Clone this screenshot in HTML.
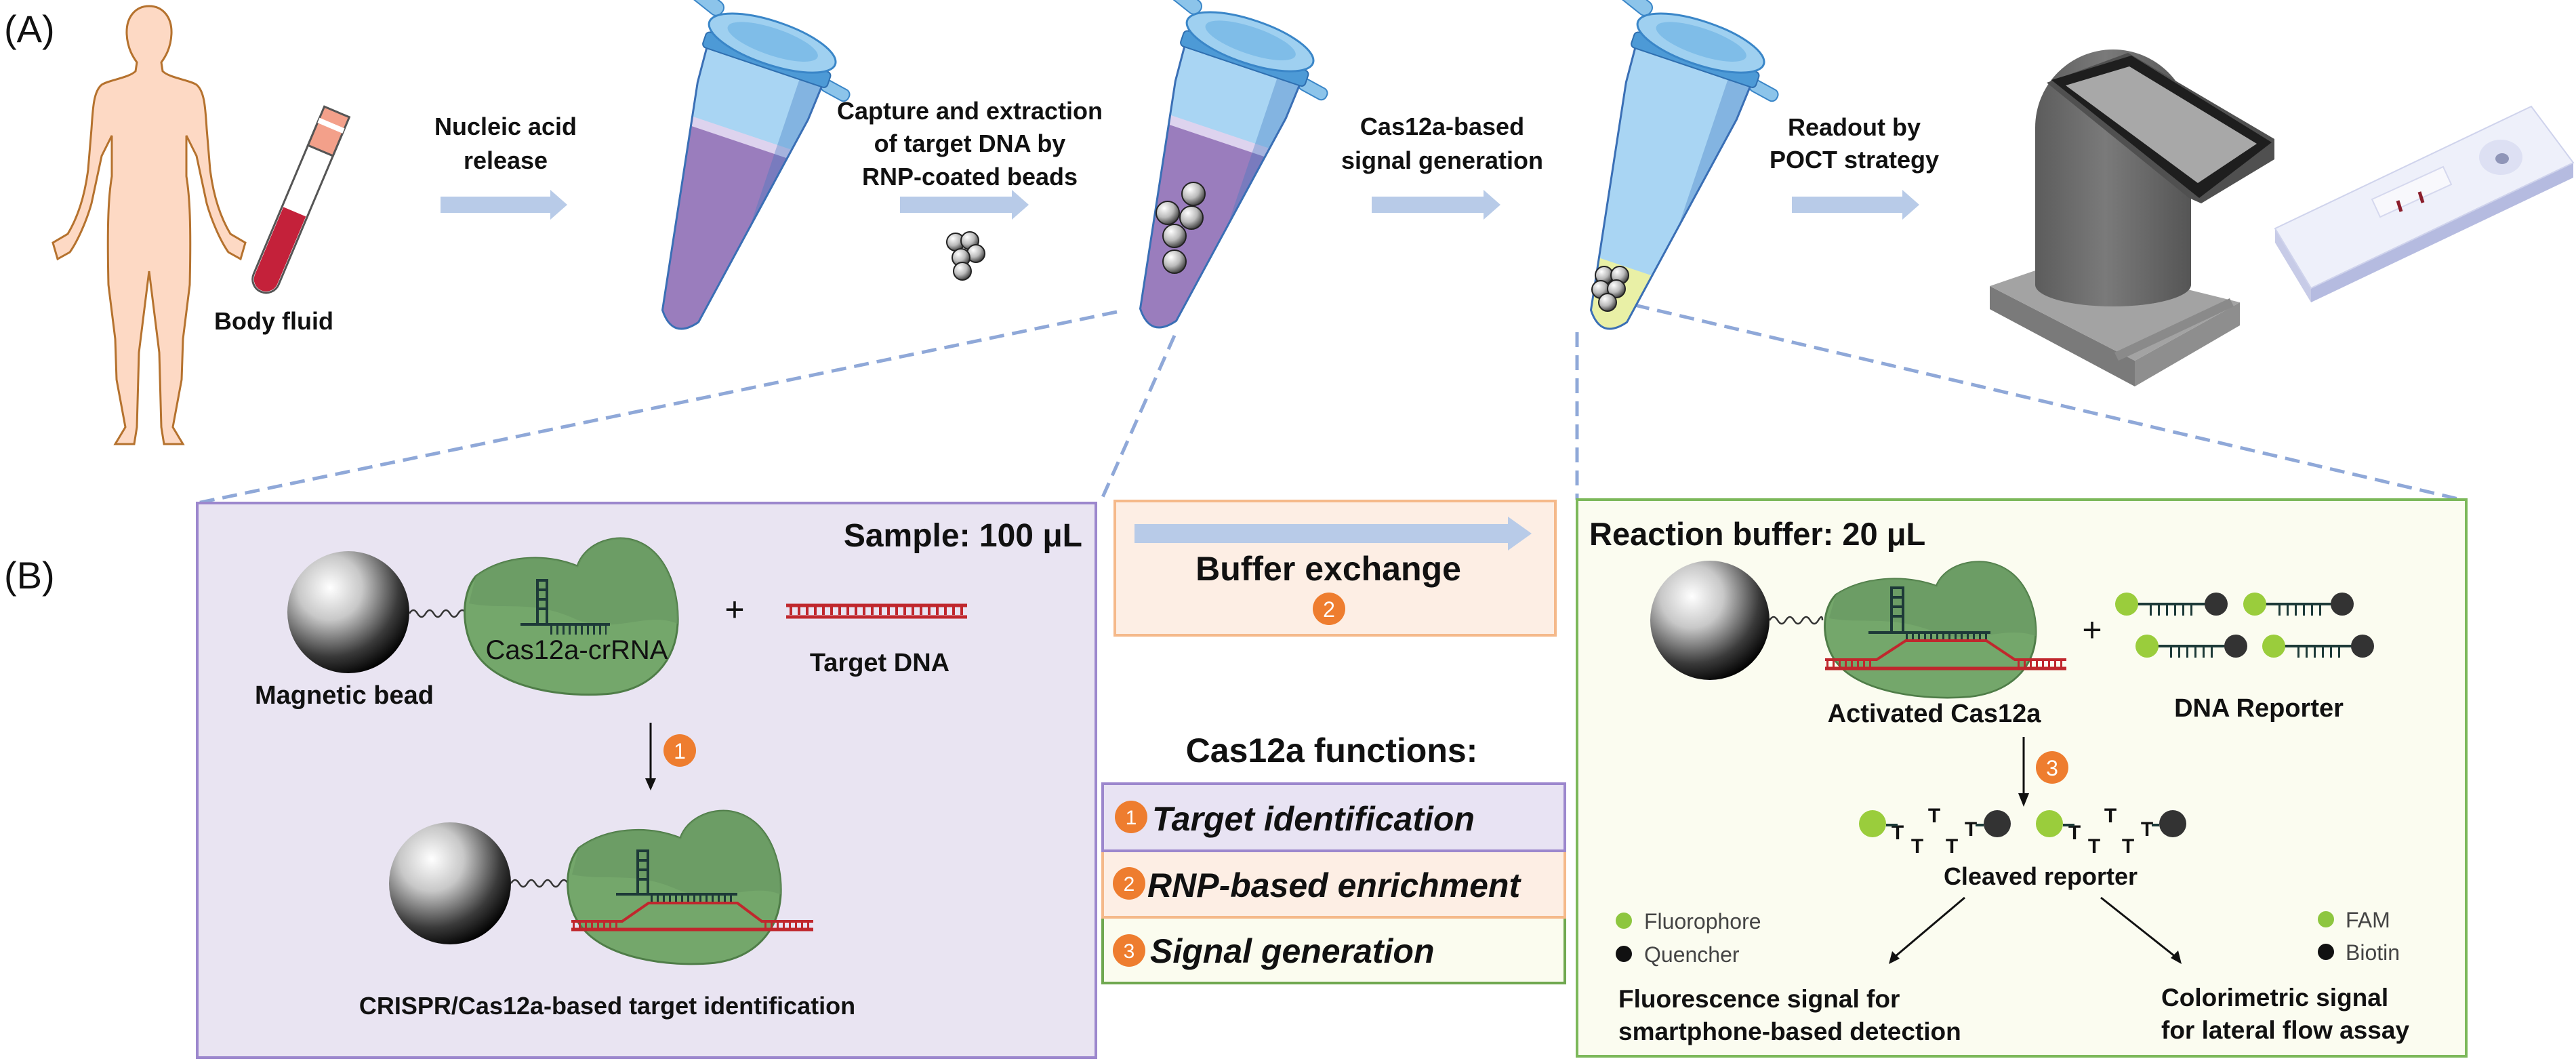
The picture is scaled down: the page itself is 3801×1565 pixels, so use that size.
<!DOCTYPE html>
<html><head><meta charset="utf-8"><style>
html,body{margin:0;padding:0;background:#fff;}
svg{display:block;}
text{font-family:"Liberation Sans",Arial,sans-serif;fill:#111;}
.b{font-weight:bold;}
</style></head><body>
<svg width="3801" height="1565" viewBox="0 0 3801 1565" xmlns="http://www.w3.org/2000/svg">
<defs>
<radialGradient id="bead" cx="0.35" cy="0.3" r="0.75">
<stop offset="0" stop-color="#ffffff"/><stop offset="0.35" stop-color="#c8c8c8"/><stop offset="0.75" stop-color="#3a3a3a"/><stop offset="1" stop-color="#000"/>
</radialGradient>
<radialGradient id="sbead" cx="0.35" cy="0.3" r="0.8">
<stop offset="0" stop-color="#fff"/><stop offset="0.5" stop-color="#bbb"/><stop offset="1" stop-color="#222"/>
</radialGradient>
<linearGradient id="cyl" x1="0" x2="1" y1="0" y2="0">
<stop offset="0" stop-color="#5c5c5c"/><stop offset="0.45" stop-color="#7a7a7a"/><stop offset="1" stop-color="#555"/>
</linearGradient>
<clipPath id="tb"><path d="M-90,0 L-86,60 L-28,395 Q0,432 28,395 L86,60 L90,0 Z"/></clipPath>
<path id="prot" d="M20,60 C60,30 120,25 170,45 C180,15 215,0 245,5 C300,15 320,80 318,130 C315,185 280,225 220,233 C150,240 60,225 25,180 C0,150 -5,90 20,60 Z"/>
</defs>

<g stroke="#8fa8d8" stroke-width="5" stroke-dasharray="22 12" fill="none">
<line x1="1648" y1="460" x2="291" y2="742"/>
<line x1="1733" y1="495" x2="1624" y2="740"/>
<line x1="2327" y1="490" x2="2327" y2="737"/>
<line x1="2412" y1="450" x2="3636" y2="738"/>
</g>

<text x="6" y="62" font-size="56">(A)</text>
<text x="6" y="868" font-size="56">(B)</text>

<path d="M220,9 C240,9 254,25 253,50 C252,72 243,85 238,92 L240,105 C250,115 280,118 290,125 C302,135 303,160 305,190 L310,250 C315,290 325,320 340,345 L362,358 L355,382 L337,372 C325,355 312,325 305,300 L290,230 L275,200 L275,260 C280,290 282,330 280,420 L270,500 L268,560 L255,630 L270,655 L242,655 L238,630 L235,520 L220,400 L205,520 L202,630 L198,655 L170,655 L185,630 L172,560 L170,500 L160,420 C158,330 160,290 165,260 L165,200 L150,230 L135,300 C128,325 115,355 103,372 L85,382 L78,358 L100,345 C115,320 125,290 130,250 L135,190 C137,160 138,135 150,125 C160,118 190,115 200,105 L202,92 C197,85 188,72 187,50 C186,25 200,9 220,9 Z" fill="#fdd9c4" stroke="#b5722e" stroke-width="3"/>

<g transform="translate(497,165) rotate(22.9)">
<rect x="-20" y="0" width="40" height="288" rx="20" fill="#fff" stroke="#555" stroke-width="3"/>
<path d="M-18,160 L18,160 L18,268 A18,18 0 0 1 -18,268 Z" fill="#c4213a"/>
<rect x="-20" y="0" width="40" height="62" fill="#f3a08a" stroke="#555" stroke-width="3"/>
<rect x="-20" y="18" width="40" height="8" fill="#fff"/>
</g>
<text class="b" x="404" y="486" font-size="36" text-anchor="middle">Body fluid</text>

<g class="b" font-size="36" text-anchor="middle">
<text x="746" y="199" class="b">Nucleic acid</text>
<text x="746" y="249" class="b">release</text>
<text x="1431" y="176" class="b">Capture and extraction</text>
<text x="1431" y="224" class="b">of target DNA by</text>
<text x="1431" y="273" class="b">RNP-coated beads</text>
<text x="2128" y="199" class="b">Cas12a-based</text>
<text x="2128" y="249" class="b">signal generation</text>
<text x="2736" y="200" class="b">Readout by</text>
<text x="2736" y="248" class="b">POCT strategy</text>
</g>

<g fill="#b8cbe8">
<path d="M650,290 L812,290 L812,280 L837,302 L812,324 L812,314 L650,314 Z"/>
<path d="M1328,290 L1493,290 L1493,280 L1518,302 L1493,324 L1493,314 L1328,314 Z"/>
<path d="M2024,290 L2189,290 L2189,280 L2214,302 L2189,324 L2189,314 L2024,314 Z"/>
<path d="M2644,290 L2807,290 L2807,280 L2832,302 L2807,324 L2807,314 L2644,314 Z"/>
</g>

<g transform="translate(1130,92) rotate(18.6)">
<rect x="-175" y="-62" width="90" height="22" rx="10" fill="#8cc4ea" stroke="#3a86c8" stroke-width="2" transform="rotate(20 -90 -50)"/>
<rect x="88" y="-6" width="45" height="18" rx="8" fill="#8cc4ea" stroke="#3a86c8" stroke-width="2" transform="rotate(10 90 3)"/>
<path d="M-90,0 L-86,60 L-28,395 Q0,432 28,395 L86,60 L90,0 Z" fill="#a9d5f3"/>
<g clip-path="url(#tb)"><rect x="-100" y="118" width="200" height="320" fill="#9a7dbd"/><rect x="-100" y="110" width="200" height="14" fill="#ddd3ee"/><rect x="55" y="0" width="40" height="440" fill="#3d78c0" opacity="0.35"/></g>
<path d="M-90,0 L-86,60 L-28,395 Q0,432 28,395 L86,60 L90,0 Z" fill="none" stroke="#3a6fb5" stroke-width="3"/>
<rect x="-97" y="-16" width="194" height="24" rx="6" fill="#4d9ad6" stroke="#2f6fb0" stroke-width="2"/>
<ellipse cx="0" cy="-30" rx="98" ry="32" fill="#9fd0f0" stroke="#3a86c8" stroke-width="3"/>
<ellipse cx="0" cy="-32" rx="70" ry="20" fill="#7fbde8"/>
</g>
<g transform="translate(1835,90) rotate(18.6)">
<rect x="-175" y="-62" width="90" height="22" rx="10" fill="#8cc4ea" stroke="#3a86c8" stroke-width="2" transform="rotate(20 -90 -50)"/>
<rect x="88" y="-6" width="45" height="18" rx="8" fill="#8cc4ea" stroke="#3a86c8" stroke-width="2" transform="rotate(10 90 3)"/>
<path d="M-90,0 L-86,60 L-28,395 Q0,432 28,395 L86,60 L90,0 Z" fill="#a9d5f3"/>
<g clip-path="url(#tb)"><rect x="-100" y="118" width="200" height="320" fill="#9a7dbd"/><rect x="-100" y="110" width="200" height="14" fill="#ddd3ee"/><rect x="55" y="0" width="40" height="440" fill="#3d78c0" opacity="0.35"/></g>
<path d="M-90,0 L-86,60 L-28,395 Q0,432 28,395 L86,60 L90,0 Z" fill="none" stroke="#3a6fb5" stroke-width="3"/>
<rect x="-97" y="-16" width="194" height="24" rx="6" fill="#4d9ad6" stroke="#2f6fb0" stroke-width="2"/>
<ellipse cx="0" cy="-30" rx="98" ry="32" fill="#9fd0f0" stroke="#3a86c8" stroke-width="3"/>
<ellipse cx="0" cy="-32" rx="70" ry="20" fill="#7fbde8"/>
</g>
<g transform="translate(2500,92) rotate(18.6)">
<rect x="-175" y="-62" width="90" height="22" rx="10" fill="#8cc4ea" stroke="#3a86c8" stroke-width="2" transform="rotate(20 -90 -50)"/>
<rect x="88" y="-6" width="45" height="18" rx="8" fill="#8cc4ea" stroke="#3a86c8" stroke-width="2" transform="rotate(10 90 3)"/>
<path d="M-90,0 L-86,60 L-28,395 Q0,432 28,395 L86,60 L90,0 Z" fill="#a9d5f3"/>
<g clip-path="url(#tb)"><rect x="-100" y="318" width="200" height="120" fill="#e9f0a6"/><rect x="55" y="0" width="40" height="440" fill="#3d78c0" opacity="0.35"/></g>
<path d="M-90,0 L-86,60 L-28,395 Q0,432 28,395 L86,60 L90,0 Z" fill="none" stroke="#3a6fb5" stroke-width="3"/>
<rect x="-97" y="-16" width="194" height="24" rx="6" fill="#4d9ad6" stroke="#2f6fb0" stroke-width="2"/>
<ellipse cx="0" cy="-30" rx="98" ry="32" fill="#9fd0f0" stroke="#3a86c8" stroke-width="3"/>
<ellipse cx="0" cy="-32" rx="70" ry="20" fill="#7fbde8"/>
</g>

<g fill="url(#sbead)" stroke="#222" stroke-width="2">
<circle cx="1761" cy="286" r="17"/><circle cx="1723" cy="314" r="17"/><circle cx="1758" cy="321" r="17"/><circle cx="1733" cy="348" r="17"/><circle cx="1733" cy="386" r="17"/>
<circle cx="1410" cy="357" r="13"/><circle cx="1431" cy="355" r="13"/><circle cx="1440" cy="374" r="13"/><circle cx="1418" cy="380" r="13"/><circle cx="1420" cy="400" r="13"/>
<circle cx="2367" cy="406" r="13"/><circle cx="2390" cy="406" r="13"/><circle cx="2362" cy="427" r="13"/><circle cx="2385" cy="426" r="13"/><circle cx="2372" cy="446" r="13"/>
</g>

<polygon points="2936,422 2936,456 3150,570 3150,532" fill="#7a7a7a"/>
<polygon points="3150,532 3150,570 3305,480 3305,446" fill="#8e8e8e"/>
<polygon points="2936,422 3050,383 3305,446 3150,532" fill="#a3a3a3"/>
<polygon points="3120,520 3290,440 3296,452 3126,532" fill="#8a8a8a"/>
<path d="M3003,188 A115,115 0 0 1 3233,188 L3233,420 A115,32 0 0 1 3003,420 Z" fill="url(#cyl)"/>
<polygon points="3020,122 3140,78 3356,205 3356,235 3248,300 3230,292" fill="#505050"/>
<polygon points="3027,118 3145,82 3352,210 3245,292" fill="#1e1e1e"/>
<polygon points="3048,126 3142,98 3330,212 3243,270" fill="#a8a8a8"/>

<polygon points="3357,337 3410,425 3410,446 3357,358" fill="#c7cbe7"/>
<polygon points="3410,425 3797,240 3797,262 3410,446" fill="#b5bbe0"/>
<polygon points="3357,337 3735,157 3797,240 3410,425" fill="#eef0fa" stroke="#cfd3ec" stroke-width="2"/>
<polygon points="3500,294 3605,246 3617,272 3512,320" fill="#f8f8fc" stroke="#d5d8ee" stroke-width="2"/>
<line x1="3538" y1="296" x2="3543" y2="312" stroke="#8b1e2b" stroke-width="5"/>
<line x1="3570" y1="283" x2="3575" y2="299" stroke="#8b1e2b" stroke-width="5"/>
<ellipse cx="3690" cy="232" rx="32" ry="26" fill="#dde0f3"/>
<ellipse cx="3692" cy="234" rx="10" ry="8" fill="#8f95b8"/>

<rect x="291" y="742" width="1326" height="818" fill="#e9e4f2" stroke="#9c87cd" stroke-width="4"/>
<text class="b" x="1597" y="806" font-size="48" text-anchor="end">Sample: 100 μL</text>
<circle cx="514" cy="903" r="90" fill="url(#bead)"/>
<path d="M604,905 q6,-10 12,0 t12,0 t12,0 t12,0 t12,0 t12,0 t12,0" fill="none" stroke="#333" stroke-width="2.5"/>
<g transform="translate(682,790)"><use href="#prot" fill="#74a76b" stroke="#4f7d48" stroke-width="3"/><path d="M20,60 C60,30 120,25 170,45 C180,15 215,0 245,5 C300,15 320,80 318,130 C270,110 220,150 160,120 C100,95 60,110 10,100 Z" fill="#6a9863" opacity="0.7"/></g>
<g stroke="#1d3a38" stroke-width="4" fill="none">
<line x1="793" y1="854" x2="793" y2="921"/><line x1="807" y1="854" x2="807" y2="921"/>
<line x1="793" y1="856" x2="807" y2="856"/><line x1="793" y1="870" x2="807" y2="870"/><line x1="793" y1="884" x2="807" y2="884"/><line x1="793" y1="898" x2="807" y2="898"/>
<line x1="768" y1="921" x2="900" y2="921"/>
<line x1="812" y1="929" x2="895" y2="929" stroke-width="14" stroke-dasharray="3 6"/>
</g>
<text x="851" y="972" font-size="40" text-anchor="middle">Cas12a-crRNA</text>
<text x="1084" y="916" font-size="50" text-anchor="middle">+</text>
<g stroke="#c0272d">
<line x1="1160" y1="893" x2="1427" y2="893" stroke-width="5"/>
<line x1="1160" y1="910" x2="1427" y2="910" stroke-width="5"/>
<line x1="1165" y1="901" x2="1422" y2="901" stroke-width="12" stroke-dasharray="4 8"/>
</g>
<text class="b" x="1298" y="990" font-size="38" text-anchor="middle">Target DNA</text>
<text class="b" x="508" y="1038" font-size="38" text-anchor="middle">Magnetic bead</text>
<line x1="960" y1="1066" x2="960" y2="1150" stroke="#111" stroke-width="3"/>
<polygon points="952,1148 968,1148 960,1166" fill="#111"/>
<circle cx="1003" cy="1107" r="24" fill="#ee7d2f"/><text x="1003" y="1119" font-size="32" text-anchor="middle" style="fill:#fff">1</text>

<circle cx="664" cy="1303" r="90" fill="url(#bead)"/>
<path d="M754,1303 q6,-10 12,0 t12,0 t12,0 t12,0 t12,0 t12,0 t12,0" fill="none" stroke="#333" stroke-width="2.5"/>
<g transform="translate(834,1192) scale(1,0.98)"><use href="#prot" fill="#74a76b" stroke="#4f7d48" stroke-width="3"/><path d="M20,60 C60,30 120,25 170,45 C180,15 215,0 245,5 C300,15 320,80 318,130 C270,110 220,150 160,120 C100,95 60,110 10,100 Z" fill="#6a9863" opacity="0.7"/></g>
<g stroke="#1d3a38" stroke-width="4" fill="none">
<line x1="941" y1="1253" x2="941" y2="1319"/><line x1="956" y1="1253" x2="956" y2="1319"/>
<line x1="941" y1="1255" x2="956" y2="1255"/><line x1="941" y1="1269" x2="956" y2="1269"/><line x1="941" y1="1283" x2="956" y2="1283"/><line x1="941" y1="1297" x2="956" y2="1297"/>
<line x1="909" y1="1319" x2="1088" y2="1319"/>
<line x1="960" y1="1326" x2="1085" y2="1326" stroke-width="12" stroke-dasharray="3 6"/>
</g>
<g stroke="#c0272d" fill="none">
<path d="M843,1371 L1200,1371" stroke-width="5"/>
<path d="M843,1359 L918,1359 L957,1332 L1088,1332 L1124,1359 L1200,1359" stroke-width="4"/>
<line x1="845" y1="1365" x2="916" y2="1365" stroke-width="10" stroke-dasharray="3 6"/>
<line x1="1128" y1="1365" x2="1198" y2="1365" stroke-width="10" stroke-dasharray="3 6"/>
</g>
<text class="b" x="896" y="1496" font-size="36" text-anchor="middle">CRISPR/Cas12a-based target identification</text>

<rect x="1645" y="739" width="650" height="198" fill="#fdeee4" stroke="#f5b98a" stroke-width="4"/>
<path d="M1674,773 L2225,773 L2225,762 L2260,787 L2225,812 L2225,801 L1674,801 Z" fill="#b8cbe8"/>
<text class="b" x="1960" y="856" font-size="50" text-anchor="middle">Buffer exchange</text>
<circle cx="1961" cy="898" r="24" fill="#ee7d2f"/><text x="1961" y="910" font-size="32" text-anchor="middle" style="fill:#fff">2</text>
<text class="b" x="1965" y="1124" font-size="50" text-anchor="middle">Cas12a functions:</text>
<rect x="1627" y="1353" width="682" height="97" fill="#fbfcef" stroke="#70a850" stroke-width="4"/>
<rect x="1627" y="1255" width="682" height="98" fill="#fdeee4" stroke="#f5b98a" stroke-width="4"/>
<rect x="1627" y="1156" width="682" height="99" fill="#e8e3f3" stroke="#9c87cd" stroke-width="4"/>
<g class="b" font-size="50" font-style="italic">
<text x="1700" y="1225" class="b">Target identification</text>
<text x="1693" y="1323" class="b">RNP-based enrichment</text>
<text x="1697" y="1420" class="b">Signal generation</text>
</g>
<g fill="#ee7d2f"><circle cx="1669" cy="1205" r="24"/><circle cx="1666" cy="1303" r="24"/><circle cx="1666" cy="1402" r="24"/></g>
<g font-size="30" text-anchor="middle" style="fill:#fff">
<text x="1669" y="1216" style="fill:#fff">1</text><text x="1666" y="1314" style="fill:#fff">2</text><text x="1666" y="1413" style="fill:#fff">3</text>
</g>

<rect x="2327" y="737" width="1312" height="821" fill="#fbfcf0" stroke="#7cb85a" stroke-width="4"/>
<text class="b" x="2345" y="804" font-size="47">Reaction buffer: 20 μL</text>
<circle cx="2523" cy="915" r="88" fill="url(#bead)"/>
<path d="M2611,915 q6,-10 12,0 t12,0 t12,0 t12,0 t12,0 t12,0 t6,0" fill="none" stroke="#333" stroke-width="2.5"/>
<g transform="translate(2689,825) scale(0.99,0.87)"><use href="#prot" fill="#74a76b" stroke="#4f7d48" stroke-width="3"/><path d="M20,60 C60,30 120,25 170,45 C180,15 215,0 245,5 C300,15 320,80 318,130 C270,110 220,150 160,120 C100,95 60,110 10,100 Z" fill="#6a9863" opacity="0.7"/></g>
<g stroke="#1d3a38" stroke-width="4" fill="none">
<line x1="2791" y1="865" x2="2791" y2="933"/><line x1="2808" y1="865" x2="2808" y2="933"/>
<line x1="2791" y1="867" x2="2808" y2="867"/><line x1="2791" y1="881" x2="2808" y2="881"/><line x1="2791" y1="895" x2="2808" y2="895"/><line x1="2791" y1="909" x2="2808" y2="909"/>
<line x1="2757" y1="933" x2="2937" y2="933"/>
<line x1="2812" y1="940" x2="2932" y2="940" stroke-width="12" stroke-dasharray="3 6"/>
</g>
<g stroke="#c0272d" fill="none">
<path d="M2693,986 L3049,986" stroke-width="5"/>
<path d="M2693,973 L2769,973 L2812,945 L2931,945 L2973,973 L3049,973" stroke-width="4"/>
<line x1="2695" y1="979" x2="2767" y2="979" stroke-width="10" stroke-dasharray="3 6"/>
<line x1="2977" y1="979" x2="3047" y2="979" stroke-width="10" stroke-dasharray="3 6"/>
</g>
<text class="b" x="2854" y="1065" font-size="38" text-anchor="middle">Activated Cas12a</text>
<text x="3087" y="946" font-size="50" text-anchor="middle">+</text>
<g stroke="#1d3a38">
<line x1="3150" y1="891" x2="3260" y2="891" stroke-width="4"/><line x1="3172" y1="900" x2="3240" y2="900" stroke-width="16" stroke-dasharray="3 9"/>
<line x1="3340" y1="891" x2="3446" y2="891" stroke-width="4"/><line x1="3362" y1="900" x2="3428" y2="900" stroke-width="16" stroke-dasharray="3 9"/>
<line x1="3180" y1="953" x2="3289" y2="953" stroke-width="4"/><line x1="3202" y1="962" x2="3270" y2="962" stroke-width="16" stroke-dasharray="3 9"/>
<line x1="3368" y1="953" x2="3476" y2="953" stroke-width="4"/><line x1="3390" y1="962" x2="3458" y2="962" stroke-width="16" stroke-dasharray="3 9"/>
</g>
<g fill="#9acd3c"><circle cx="3138" cy="891" r="17"/><circle cx="3327" cy="891" r="17"/><circle cx="3168" cy="953" r="17"/><circle cx="3355" cy="953" r="17"/></g>
<g fill="#333"><circle cx="3270" cy="891" r="17"/><circle cx="3456" cy="891" r="17"/><circle cx="3299" cy="953" r="17"/><circle cx="3486" cy="953" r="17"/></g>
<text class="b" x="3333" y="1057" font-size="38" text-anchor="middle">DNA Reporter</text>
<line x1="2986" y1="1087" x2="2986" y2="1172" stroke="#111" stroke-width="3"/>
<polygon points="2978,1170 2994,1170 2986,1190" fill="#111"/>
<circle cx="3028" cy="1132" r="24" fill="#ee7d2f"/><text x="3028" y="1144" font-size="32" text-anchor="middle" style="fill:#fff">3</text>
<g fill="#9acd3c"><circle cx="2763" cy="1215" r="20"/><circle cx="3024" cy="1215" r="20"/></g>
<g fill="#333"><circle cx="2947" cy="1215" r="20"/><circle cx="3206" cy="1215" r="20"/></g>
<g class="b" font-size="30" text-anchor="middle" style="fill:#1d3a38">
<text x="2800" y="1238" class="b">T</text><text x="2829" y="1258" class="b">T</text><text x="2854" y="1213" class="b">T</text><text x="2880" y="1258" class="b">T</text><text x="2908" y="1233" class="b">T</text>
<text x="3061" y="1238" class="b">T</text><text x="3090" y="1258" class="b">T</text><text x="3114" y="1213" class="b">T</text><text x="3140" y="1258" class="b">T</text><text x="3168" y="1233" class="b">T</text>
</g>
<g stroke="#1d3a38" stroke-width="4"><line x1="2783" y1="1217" x2="2800" y2="1217"/><line x1="2915" y1="1217" x2="2927" y2="1217"/><line x1="3044" y1="1217" x2="3061" y2="1217"/><line x1="3175" y1="1217" x2="3186" y2="1217"/></g>
<text class="b" x="3011" y="1305" font-size="36" text-anchor="middle">Cleaved reporter</text>
<g stroke="#111" stroke-width="3"><line x1="2899" y1="1324" x2="2795" y2="1412"/><line x1="3100" y1="1324" x2="3211" y2="1412"/></g>
<polygon points="2787,1422 2792,1403 2803,1414" fill="#111"/>
<polygon points="3219,1422 3203,1413 3214,1402" fill="#111"/>
<circle cx="2396" cy="1358" r="12" fill="#8dc63f"/><circle cx="2396" cy="1407" r="12" fill="#111"/>
<circle cx="3432" cy="1356" r="12" fill="#8dc63f"/><circle cx="3432" cy="1404" r="12" fill="#111"/>
<g font-size="32" style="fill:#444">
<text x="2426" y="1370" style="fill:#444">Fluorophore</text><text x="2426" y="1419" style="fill:#444">Quencher</text>
<text x="3461" y="1368" style="fill:#444">FAM</text><text x="3461" y="1416" style="fill:#444">Biotin</text>
</g>
<g class="b" font-size="37">
<text x="2388" y="1486" class="b">Fluorescence signal for</text>
<text x="2388" y="1534" class="b">smartphone-based detection</text>
<text x="3189" y="1484" class="b">Colorimetric signal</text>
<text x="3189" y="1532" class="b">for lateral flow assay</text>
</g>
</svg>
</body></html>
